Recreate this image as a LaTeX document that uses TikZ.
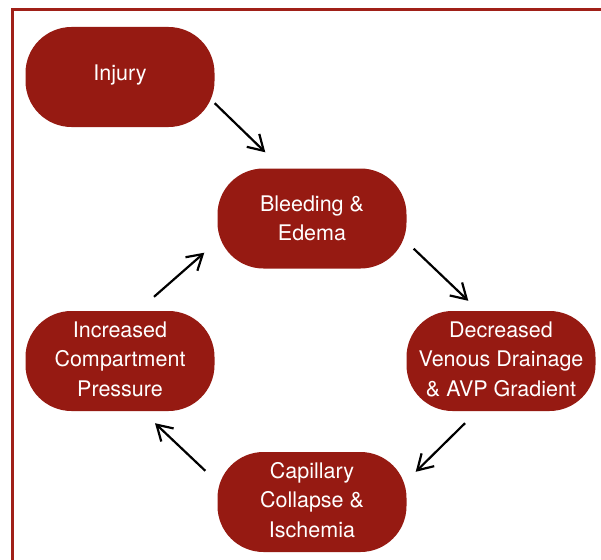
\documentclass[tikz,border=0pt]{standalone}
\usepackage{fontspec}
\setmainfont{TeX Gyre Heros}
\usetikzlibrary{arrows.meta,calc}
\definecolor{boxred}{RGB}{150,26,18}
\definecolor{framered}{RGB}{160,32,24}
\begin{document}
\begin{tikzpicture}[x=1pt,y=-1pt,
  stagebox/.style={fill=boxred,draw=none,rounded corners=46pt,minimum width=189pt,minimum height=100pt,inner sep=0pt,align=center,text=white,font=\fontsize{21.5}{29.5}\selectfont},
  flowarrow/.style={line width=2.2pt,-{Straight Barb[length=15pt,width=18pt,line width=2.2pt]}}]
\useasboundingbox (0,0) rectangle (601,559);
\draw[framered,line width=2.5pt] (12.5,562) -- (12.5,9.5) -- (604,9.5);
\node[stagebox] (inj) at (120,77) {\raisebox{8pt}{Injury}};
\node[stagebox] (bld) at (312,218.5) {Bleeding \&\\Edema};
\node[stagebox] (dec) at (501,361) {\raisebox{2.5pt}{\begin{tabular}{@{}c@{}}Decreased\\Venous Drainage\\\& AVP Gradient\end{tabular}}};
\node[stagebox] (cap) at (312,502) {\raisebox{2pt}{\begin{tabular}{@{}c@{}}Capillary\\Collapse \&\\Ischemia\end{tabular}}};
\node[stagebox] (inc) at (120,361) {\raisebox{2.5pt}{\begin{tabular}{@{}c@{}}Increased\\Compartment\\Pressure\end{tabular}}};
\draw[flowarrow] ([shift={(0,-24)}]inj.south east) -- ([shift={(48,-16)}]bld.north west);
\draw[flowarrow] ([shift={(7,-20)}]bld.south east) -- ([shift={(62,-10)}]dec.north west);
\draw[flowarrow] ([shift={(-36,12)}]dec.south) -- ([shift={(9,20)}]cap.north east);
\draw[flowarrow] ([shift={(-12,19)}]cap.north west) -- ([shift={(35,12)}]inc.south);
\draw[flowarrow] ([shift={(34,-14)}]inc.north) -- ([shift={(-13,-16)}]bld.south west);
\end{tikzpicture}
\end{document}
